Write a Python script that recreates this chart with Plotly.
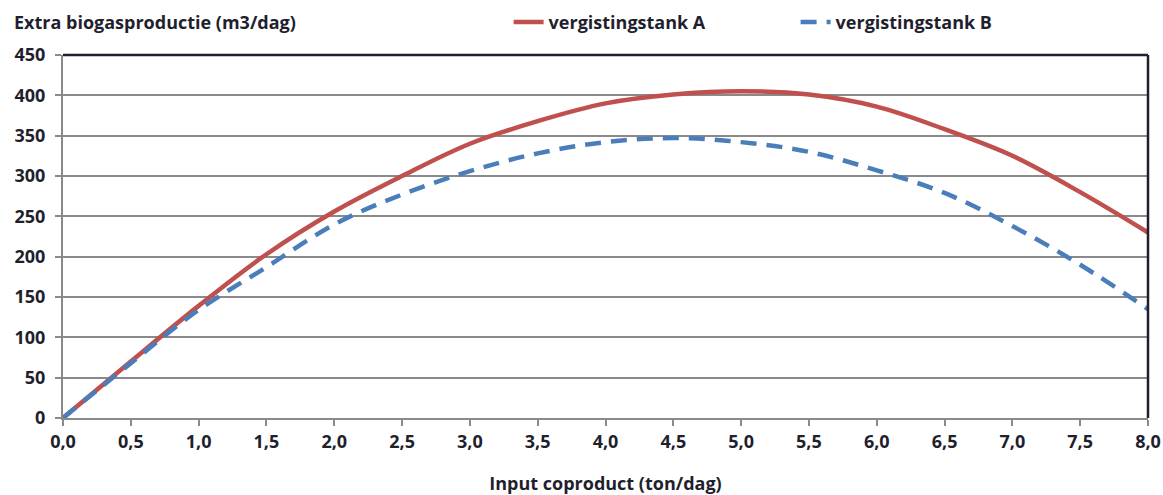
import plotly.graph_objects as go

x_vals = [0.0, 0.5, 1.0, 1.5, 2.0, 2.5, 3.0, 3.5, 4.0, 4.5, 5.0, 5.5, 6.0, 6.5, 7.0, 7.5, 8.0]
tank_a = [0, 70, 139, 203, 256, 300, 340, 368, 390, 401, 405, 401, 386, 358, 325, 280, 230]
tank_b = [0, 68, 134, 187, 240, 277, 306, 328, 342, 347, 342, 330, 307, 279, 238, 190, 135]

x_ticks = [0.0, 0.5, 1.0, 1.5, 2.0, 2.5, 3.0, 3.5, 4.0, 4.5, 5.0, 5.5, 6.0, 6.5, 7.0, 7.5, 8.0]
x_tick_labels = ["0,0", "0,5", "1,0", "1,5", "2,0", "2,5", "3,0", "3,5", "4,0", "4,5",
                 "5,0", "5,5", "6,0", "6,5", "7,0", "7,5", "8,0"]
y_ticks = [0, 50, 100, 150, 200, 250, 300, 350, 400, 450]

series_names = ["vergistingstank A", "vergistingstank B"]
title_y = "Extra biogasproductie (m3/dag)"
title_x = "Input coproduct (ton/dag)"

FONT = "Open Sans"
TXT = "#1f1f2e"
GRID = "#8a8a8a"
FS = 18

fig = go.Figure()
fig.add_trace(go.Scatter(x=x_vals, y=tank_a, mode="lines", name=series_names[0],
                         line=dict(color="#C0504D", width=4.5, shape="spline")))
fig.add_trace(go.Scatter(x=x_vals, y=tank_b, mode="lines", name=series_names[1],
                         line=dict(color="#4A7EBB", width=4.5, shape="spline", dash="16px,10px")))

fig.update_layout(
    width=1163, height=495,
    margin=dict(l=63, r=15, t=55, b=77, autoexpand=False),
    paper_bgcolor="white", plot_bgcolor="white",
    font=dict(family=FONT, color=TXT, size=FS),
    showlegend=True,
    legend=dict(orientation="h", x=0.4107, xanchor="left", y=1.09, yanchor="middle",
                xref="paper", yref="paper", entrywidth=242,
                font=dict(family=FONT, size=FS, color=TXT, weight="bold"),
                bgcolor="rgba(0,0,0,0)"),
    xaxis=dict(range=[0, 8], tickvals=x_ticks, ticktext=x_tick_labels, automargin=False,
               showgrid=False, zeroline=False, showline=True, linecolor=GRID, linewidth=2,
               ticks="outside", ticklen=6, tickwidth=2, tickcolor=GRID,
               tickfont=dict(family=FONT, size=FS, color=TXT, weight="bold"),
               title=dict(text=title_x, standoff=30,
                          font=dict(family=FONT, size=FS, color=TXT, weight="bold"))),
    yaxis=dict(range=[0, 450], tickvals=y_ticks, automargin=False,
               showgrid=True, gridcolor=GRID, gridwidth=2, zeroline=False,
               showline=True, linecolor=GRID, linewidth=2,
               ticks="outside", ticklen=6, tickwidth=2, tickcolor=GRID,
               ticklabelstandoff=6,
               tickfont=dict(family=FONT, size=FS, color=TXT, weight="bold")),
    annotations=[dict(text="<b>" + title_y + "</b>", xref="paper", yref="paper",
                      x=-0.047, y=1.0, xanchor="left", yanchor="middle", yshift=33,
                      showarrow=False, font=dict(family=FONT, size=FS, color=TXT))],
    shapes=[dict(type="line", xref="paper", yref="paper", x0=0, x1=1, y0=1, y1=1,
                 line=dict(color="#1f1f2e", width=2.5)),
            dict(type="line", xref="paper", yref="paper", x0=1, x1=1, y0=0, y1=1,
                 line=dict(color="#1f1f2e", width=2.5))],
)

fig.write_html("out.html")
